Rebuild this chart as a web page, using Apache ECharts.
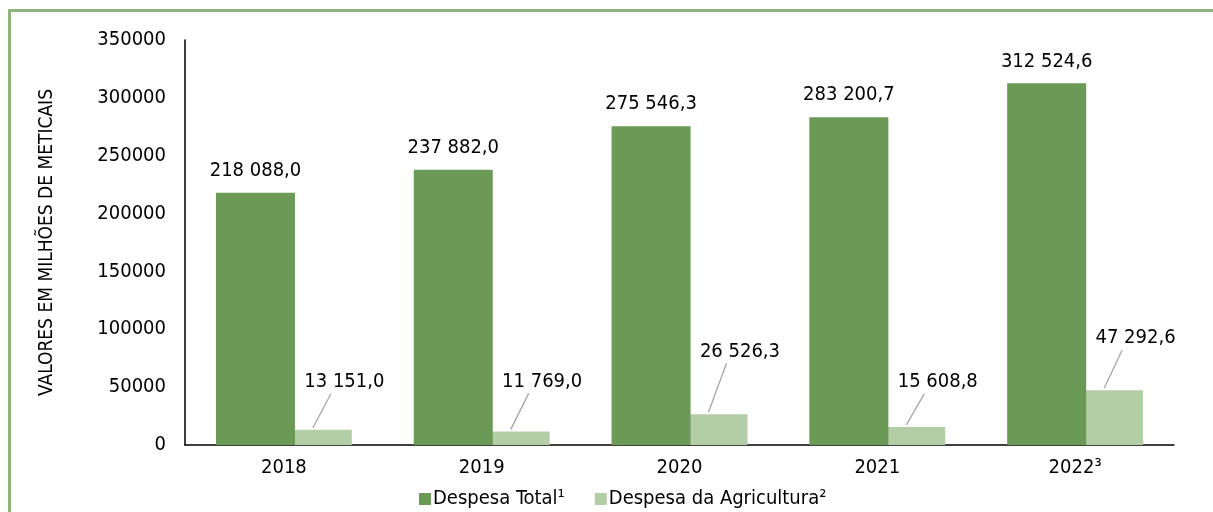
<!DOCTYPE html>
<html>
<head>
<meta charset="utf-8">
<script src="https://cdn.jsdelivr.net/npm/echarts@6/dist/echarts.min.js"></script>
<style>
html,body{margin:0;padding:0;background:#fff;}
#c{width:1213px;height:512px;}
</style>
</head>
<body>
<div id="c"></div>
<script>
const categories = ['2018', '2019', '2020', '2021', '2022³'];
const despesaTotal = [218088.0, 237882.0, 275546.3, 283200.7, 312524.6];
const despesaAgricultura = [13151.0, 11769.0, 26526.3, 15608.8, 47292.6];
const seriesNames = ['Despesa Total¹', 'Despesa da Agricultura²'];
const axisTitle = 'VALORES EM MILHÕES DE METICAIS';

const FONT = '"DejaVu Sans Condensed", "DejaVu Sans", sans-serif';
function fmt(v) {
  const s = v.toFixed(1).split('.');
  return s[0].replace(/\B(?=(\d{3})+(?!\d))/g, ' ') + ',' + s[1];
}
const agriDy = [-33, -35, -48, -30, -37];
const BAR_W = 79;
const LIGHT_OFFSET = 29; // light bar centre offset from category centre (px)

const chart = echarts.init(document.getElementById('c'));
chart.setOption({
  animation: false,
  backgroundColor: '#fff',
  textStyle: { fontFamily: FONT },
  graphic: [{
    type: 'rect',
    shape: { x: 9.5, y: 10.5, width: 1240, height: 540 },
    style: { fill: 'none', stroke: '#8DB57B', lineWidth: 3 },
    silent: true
  }],
  grid: { left: 185, right: 39, top: 40, bottom: 67, containLabel: false },
  legend: {
    top: 484, left: 414,
    itemWidth: 12, itemHeight: 12, itemGap: 30,
    icon: 'rect',
    textStyle: { fontFamily: FONT, fontSize: 20, color: '#000', padding: [0, 0, 0, -3] },
    data: seriesNames
  },
  xAxis: {
    type: 'category',
    data: categories,
    axisLine: { lineStyle: { color: '#000', width: 1.5 } },
    axisTick: { show: false },
    axisLabel: { fontFamily: FONT, fontSize: 20, color: '#000', margin: 13 }
  },
  yAxis: {
    type: 'value',
    min: 0, max: 350000, interval: 50000,
    name: axisTitle,
    nameLocation: 'middle',
    nameRotate: 90,
    nameGap: 128,
    nameTextStyle: { fontFamily: FONT, fontSize: 19, color: '#000' },
    axisLine: { show: true, lineStyle: { color: '#000', width: 1.5 } },
    axisTick: { show: false },
    splitLine: { show: false },
    axisLabel: { fontFamily: FONT, fontSize: 20, color: '#000', margin: 19, formatter: v => String(v) }
  },
  series: [
    {
      name: seriesNames[0],
      type: 'bar',
      z: 3,
      data: despesaTotal,
      barWidth: BAR_W,
      barGap: '-28%',
      itemStyle: { color: '#6A9A55' },
      label: {
        show: true, position: 'top', distance: 12,
        fontFamily: FONT, fontSize: 20, color: '#000',
        formatter: p => fmt(p.value)
      }
    },
    {
      name: seriesNames[1],
      type: 'bar',
      z: 2,
      data: despesaAgricultura,
      barWidth: BAR_W,
      barGap: '-28%',
      itemStyle: { color: '#B3CDA7' },
      label: {
        show: true, position: 'top', distance: 5,
        fontFamily: FONT, fontSize: 20, color: '#000',
        formatter: p => fmt(p.value)
      },
      labelLayout: p => ({ dx: 32, dy: agriDy[p.dataIndex] })
    },
    {
      type: 'custom',
      z: 4,
      silent: true,
      data: despesaAgricultura.map((v, i) => [i, v]),
      renderItem: (params, api) => {
        const i = params.dataIndex;
        const top = api.coord([api.value(0), api.value(1)]);
        const x0 = top[0] + LIGHT_OFFSET;
        const y0 = top[1] - 2;
        const y1 = top[1] + agriDy[i] - 3;
        return {
          type: 'line',
          shape: { x1: x0, y1: y0, x2: x0 + 18, y2: y1 },
          style: { stroke: '#A6A6A6', lineWidth: 1.3 }
        };
      }
    }
  ]
});
</script>
</body>
</html>
